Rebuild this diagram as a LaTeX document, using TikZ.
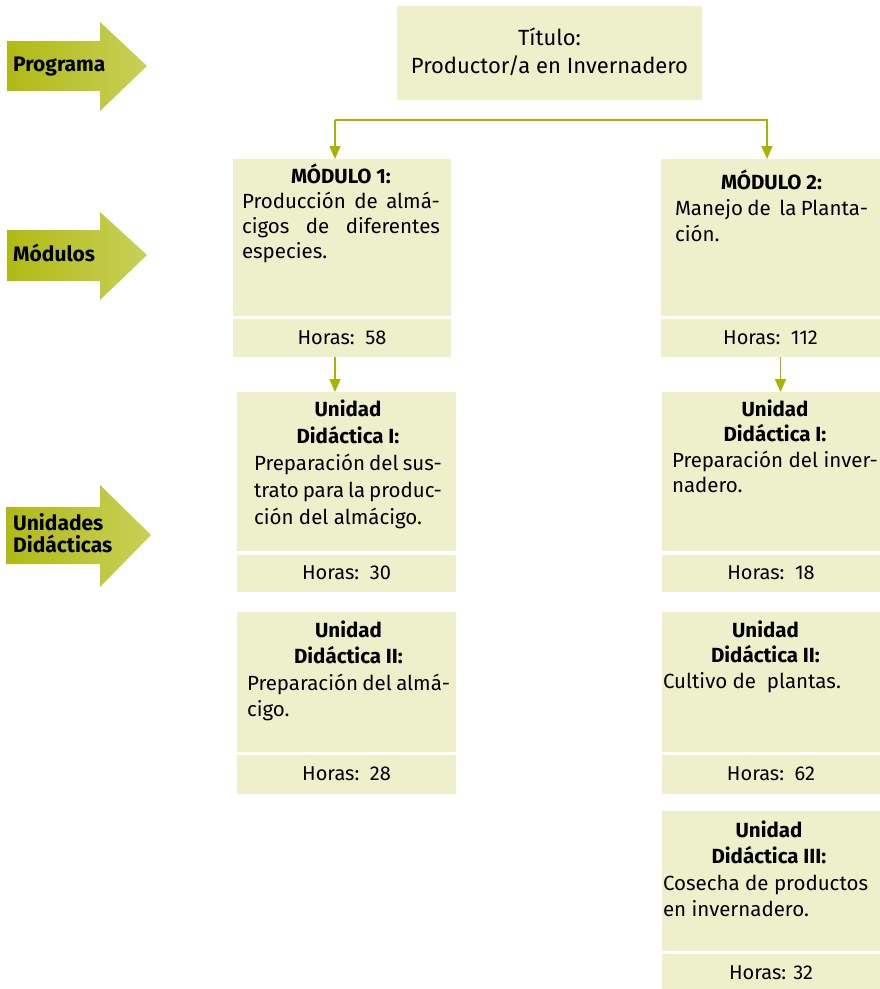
\documentclass[tikz,border=0pt]{standalone}
\usepackage{fontspec}
\setmainfont{Fira Sans}
\usetikzlibrary{arrows.meta}
\definecolor{boxfill}{RGB}{238,240,204}
\definecolor{lineol}{RGB}{168,180,0}
\definecolor{arrA}{RGB}{176,186,20}
\definecolor{arrB}{RGB}{221,226,154}
\definecolor{arrC}{RGB}{200,208,88}
\begin{document}
\begin{tikzpicture}[x=1pt,y=-1pt,
  box/.style={fill=boxfill, draw=none, anchor=north west, inner sep=0pt, outer sep=0pt},
  hbox/.style={box, text height=12pt, text depth=0pt, font=\fontsize{20}{24}\selectfont},
  txt/.style={anchor=base west, inner sep=0pt, outer sep=0pt},
  conn/.style={draw=lineol, line width=1.5pt, -{Triangle[width=11pt,length=13pt]}},
  bigarrow/.style={left color=arrA, middle color=arrB, right color=arrC},
  lab/.style={anchor=base west, inner sep=0pt, font=\fontsize{21}{22}\selectfont\bfseries, align=left}
]
\useasboundingbox (0,0) rectangle (880,989);

% side arrows
\shade[bigarrow] (7,41) -- (100,41) -- (100,22) -- (147,66) -- (100,111) -- (100,91) -- (7,91) -- cycle;
\shade[bigarrow] (7,230) -- (100,230) -- (100,212) -- (147,255) -- (100,300) -- (100,281) -- (7,281) -- cycle;
\shade[bigarrow] (6,507) -- (100,507) -- (100,485) -- (151,535) -- (100,587) -- (100,564) -- (6,564) -- cycle;
\node[lab] (lprog) at (13,71) {Programa};
\node[lab] (lmod) at (13,261) {Módulos};
\node[lab] (lud) at (13,530) {\parbox[t]{130pt}{\fontsize{21}{22}\selectfont\bfseries Unidades\\Didácticas}};

% title
\node[box, minimum width=305pt, minimum height=94pt] (title) at (397,6) {};
\node[anchor=base, inner sep=0pt] (titletxt) at (549.5,45) {\parbox[t]{305pt}{\fontsize{22}{28}\selectfont\centering Título:\\Productor/a en Invernadero}};

% module boxes
\node[box, minimum width=218pt, minimum height=157pt] (m1) at (233,159) {};
\node[hbox, minimum width=218pt, minimum height=38pt] (m1h) at (233,319) {Horas:~~58};
\node[box, minimum width=219pt, minimum height=157pt] (m2) at (661,159) {};
\node[hbox, minimum width=219pt, minimum height=38pt] (m2h) at (661,319) {Horas:~~112};

\node[txt] (m1t) at (242,183) {\parbox[t]{198pt}{\fontsize{20.5}{25}\selectfont
  {\centering\bfseries MÓDULO 1:\par}
  Producción de almá-\linebreak cigos de diferentes\linebreak especies.}};
\node[txt] (m2t) at (675,189) {\parbox[t]{193pt}{\fontsize{20.5}{26}\selectfont
  {\centering\bfseries MÓDULO 2:\par}
  Manejo de\ \ la Planta-\linebreak ción.}};

% unit boxes left
\node[box, minimum width=219pt, minimum height=159pt] (u1) at (237,392) {};
\node[hbox, minimum width=219pt, minimum height=37pt] (u1h) at (237,555) {Horas:~~30};
\node[box, minimum width=219pt, minimum height=140pt] (u2) at (237,612) {};
\node[hbox, minimum width=219pt, minimum height=39pt] (u2h) at (237,755) {Horas:~~28};

\node[txt] (u1t) at (254,416) {\parbox[t]{188pt}{\fontsize{20.5}{27}\selectfont
  {\centering\bfseries Unidad\\Didáctica I:\par}
  Preparación del sus-\linebreak trato para la produc-\linebreak ción del almácigo.}};
\node[txt] (u2t) at (247,637) {\parbox[t]{203pt}{\fontsize{20.5}{26.5}\selectfont
  {\centering\bfseries Unidad\\Didáctica II:\par}
  Preparación del almá-\newline cigo.}};

% unit boxes right
\node[box, minimum width=218pt, minimum height=159pt] (r1) at (662,392) {};
\node[hbox, minimum width=218pt, minimum height=37pt] (r1h) at (662,555) {Horas:~~18};
\node[box, minimum width=218pt, minimum height=140pt] (r2) at (662,612) {};
\node[hbox, minimum width=218pt, minimum height=39pt] (r2h) at (662,755) {Horas:~~62};
\node[box, minimum width=218pt, minimum height=140pt] (r3) at (662,811) {};
\node[hbox, minimum width=218pt, minimum height=38pt] (r3h) at (662,954) {Horas: 32};

\node[txt] (r1t) at (672,416) {\parbox[t]{206pt}{\fontsize{20.5}{25.5}\selectfont
  {\centering\bfseries Unidad\\Didáctica I:\par}
  Preparación del inver-\linebreak nadero.}};
\node[txt] (r2t) at (663,637) {\parbox[t]{205pt}{\fontsize{20.5}{25.5}\selectfont
  {\centering\bfseries Unidad\\Didáctica II:\par}
  Cultivo de\ \ plantas.}};
\node[txt] (r3t) at (663,837) {\parbox[t]{212pt}{\fontsize{20.5}{26.5}\selectfont
  {\centering\bfseries Unidad\\Didáctica III:\par}
  Cosecha de productos\newline en invernadero.}};

% connectors
\coordinate (jl) at (335,120);
\coordinate (jr) at (767,120);
\draw[conn] (jl) -- (jl |- m1.north);
\draw[conn] (jl) -- (jr) -- (jr |- m2.north);
\draw[conn] ([xshift=-7pt]m1h.south) -- ([xshift=-7pt]m1h.south |- u1.north);
\draw[conn] ([xshift=10pt]m2h.south) -- ([xshift=10pt]m2h.south |- r1.north);
\end{tikzpicture}
\end{document}
